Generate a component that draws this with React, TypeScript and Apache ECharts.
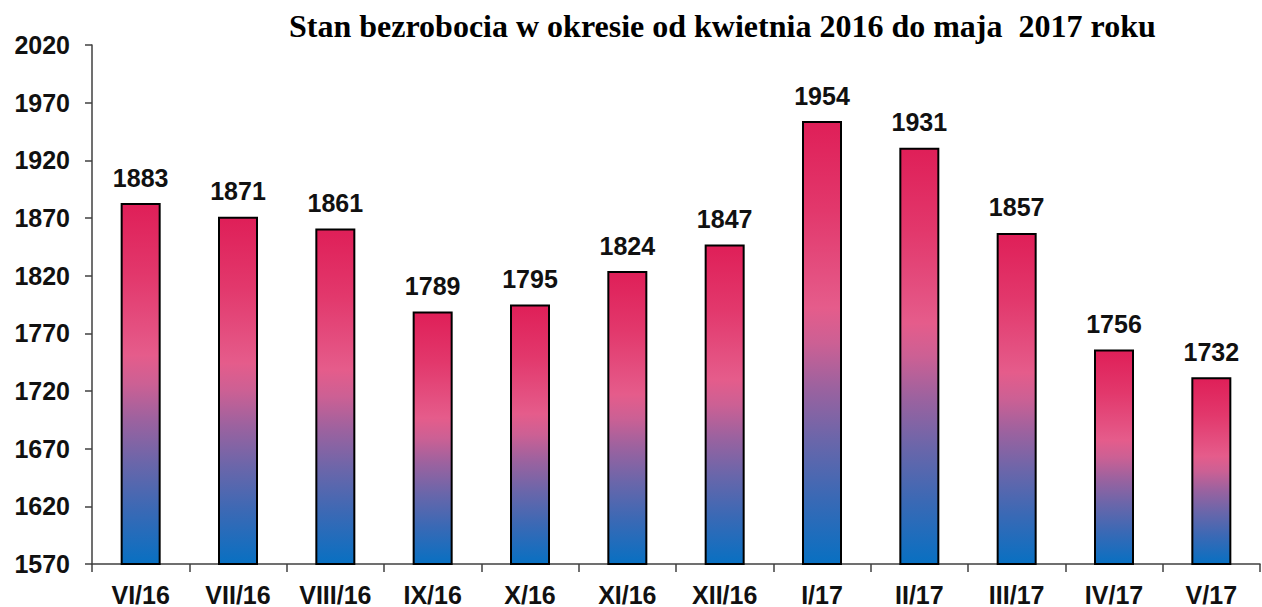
import React, { useEffect, useRef } from "react";
import * as echarts from "echarts";

const categories = ["VI/16", "VII/16", "VIII/16", "IX/16", "X/16", "XI/16", "XII/16", "I/17", "II/17", "III/17", "IV/17", "V/17"];
const values = [1883, 1871, 1861, 1789, 1795, 1824, 1847, 1954, 1931, 1857, 1756, 1732];
const yTicks = [1570, 1620, 1670, 1720, 1770, 1820, 1870, 1920, 1970, 2020];
const titleText = "Stan bezrobocia w okresie od kwietnia 2016 do maja  2017 roku";

export default function App() {
  const ref = useRef<HTMLDivElement>(null);
  useEffect(() => {
    if (!ref.current) return;
    const chart = echarts.init(ref.current, null, { renderer: "svg" });
    const grad = new echarts.graphic.LinearGradient(0, 0, 0, 1, [
      { offset: 0, color: "#df1f58" },
      { offset: 0.2, color: "#e2386c" },
      { offset: 0.42, color: "#e55c8b" },
      { offset: 0.5, color: "#cc6094" },
      { offset: 0.6, color: "#9c629f" },
      { offset: 0.72, color: "#6a66aa" },
      { offset: 0.85, color: "#3a69b5" },
      { offset: 1, color: "#0870c2" },
    ]);
    chart.setOption({
      animation: false,
      backgroundColor: "#ffffff",
      title: {
        text: titleText,
        left: 284,
        top: 5,
        textStyle: {
          fontFamily: "Liberation Serif",
          fontWeight: "bold",
          fontSize: 32,
          color: "#000",
        },
      },
      grid: { left: 92, right: 2, top: 45, bottom: 42, containLabel: false },
      xAxis: {
        type: "category",
        data: categories,
        axisLine: { lineStyle: { color: "#404040", width: 1.5 } },
        axisTick: { show: true, length: 8, lineStyle: { color: "#404040", width: 1.5 } },
        axisLabel: {
          margin: 18,
          fontFamily: "Liberation Sans",
          fontWeight: "bold",
          fontSize: 25,
          color: "#111",
        },
      },
      yAxis: {
        type: "value",
        min: 1570,
        max: 2020,
        splitLine: { show: false },
        axisLine: { show: true, lineStyle: { color: "#404040", width: 1.5 } },
        axisTick: { show: true, length: 7, customValues: yTicks, lineStyle: { color: "#404040", width: 1.5 } },
        axisLabel: {
          customValues: yTicks,
          formatter: (v: number) => String(v),
          margin: 22,
          fontFamily: "Liberation Sans",
          fontWeight: "bold",
          fontSize: 25,
          color: "#111",
        },
      },
      series: [
        {
          type: "bar",
          data: values,
          barWidth: 40,
          itemStyle: { color: grad, borderColor: "#000", borderWidth: 2 },
          label: {
            show: true,
            position: "top",
            distance: 13,
            fontFamily: "Liberation Sans",
            fontWeight: "bold",
            fontSize: 25,
            color: "#111",
          },
        },
      ],
    });
    return () => chart.dispose();
  }, []);
  return (
    <div
      ref={ref}
      style={{ position: "fixed", left: 0, top: 0, width: 1262, height: 607, background: "#fff" }}
    />
  );
}
